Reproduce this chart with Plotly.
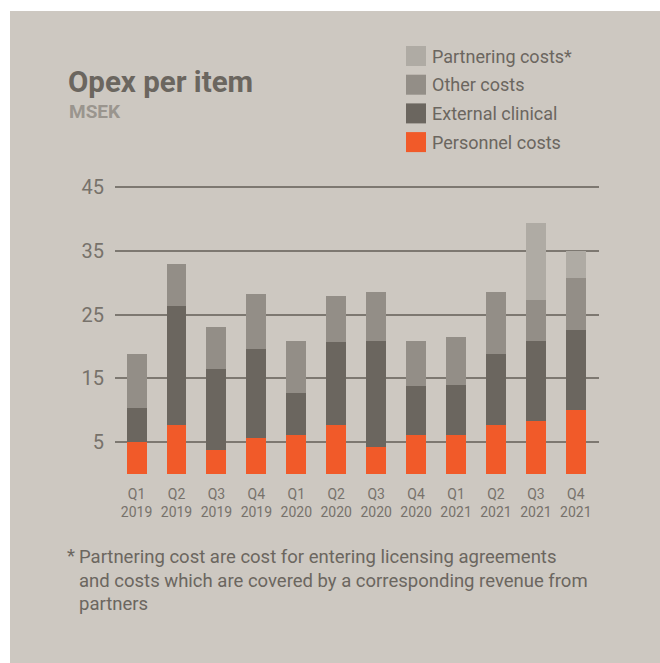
import plotly.graph_objects as go

quarters = ["Q1<br>2019", "Q2<br>2019", "Q3<br>2019", "Q4<br>2019",
            "Q1<br>2020", "Q2<br>2020", "Q3<br>2020", "Q4<br>2020",
            "Q1<br>2021", "Q2<br>2021", "Q3<br>2021", "Q4<br>2021"]
personnel = [5.0, 7.7, 3.75, 5.6, 6.1, 7.7, 4.2, 6.1, 6.1, 7.7, 8.3, 10.0]
external = [5.3, 18.6, 12.7, 14.0, 6.6, 13.0, 16.65, 7.7, 7.85, 11.1, 12.55, 12.6]
other = [8.5, 6.6, 6.55, 8.6, 8.15, 7.3, 7.65, 7.05, 7.55, 9.7, 6.45, 8.1]
partnering = [0, 0, 0, 0, 0, 0, 0, 0, 0, 0, 12.05, 4.3]
series_names = ["Partnering costs*", "Other costs", "External clinical", "Personnel costs"]
y_ticks = [5, 15, 25, 35, 45]
footnote_lines = ["Partnering cost are cost for entering licensing agreements",
                  "and costs which are covered by a corresponding revenue from",
                  "partners"]

BG = "#cdc8c1"
C_PERS = "#f15a29"
C_EXT = "#6b665f"
C_OTH = "#938e87"
C_PART = "#afaba4"
TXT = "#6b665f"
FONT = "Roboto"

W, H = 660, 663
L, R, T, B = 115, 599, 185, 474  # plot area in pixels
Y_TOP = (B - T) / 6.375

def px(p):
    return (p - L) / (R - L)

def py(q):
    return (B - q) / (B - T)

fig = go.Figure()
for vals, col, name in [(personnel, C_PERS, series_names[3]),
                        (external, C_EXT, series_names[2]),
                        (other, C_OTH, series_names[1]),
                        (partnering, C_PART, series_names[0])]:
    fig.add_trace(go.Bar(x=quarters, y=vals, marker=dict(color=col, line=dict(width=0)),
                         name=name, showlegend=False))

shapes = []
annotations = []
# white outer margin (left and top)
shapes.append(dict(type="rect", xref="paper", yref="paper", x0=px(-5), x1=px(10),
                   y0=py(H + 5), y1=py(-5), fillcolor="white", line=dict(width=0), layer="above"))
shapes.append(dict(type="rect", xref="paper", yref="paper", x0=px(-5), x1=px(W + 5),
                   y0=py(11), y1=py(-5), fillcolor="white", line=dict(width=0), layer="above"))

# legend
leg_cols = [C_PART, C_OTH, C_EXT, C_PERS]
for i, (nm, col) in enumerate(zip(series_names, leg_cols)):
    top = 46 + i * 28.7
    shapes.append(dict(type="rect", xref="paper", yref="paper", x0=px(406), x1=px(426),
                       y0=py(top + 20), y1=py(top), fillcolor=col, line=dict(width=0)))
    annotations.append(dict(xref="paper", yref="paper", x=px(430), y=py(top + 10),
                            xanchor="left", yanchor="middle", text=nm, showarrow=False,
                            font=dict(family=FONT, size=18, color=TXT)))

# title
annotations.append(dict(xref="paper", yref="paper", x=px(66), y=py(82), xanchor="left",
                        yanchor="middle", text="<b>Opex per item</b>", showarrow=False,
                        font=dict(family=FONT, size=29.5, color=TXT)))
annotations.append(dict(xref="paper", yref="paper", x=px(67), y=py(112), xanchor="left",
                        yanchor="middle", text="<b>MSEK</b>", showarrow=False,
                        font=dict(family=FONT, size=19, color="#9a958e")))

# footnote
annotations.append(dict(xref="paper", yref="paper", x=px(65), y=py(556), xanchor="left",
                        yanchor="middle", text="*", showarrow=False,
                        font=dict(family=FONT, size=18.5, color=TXT)))
for i, line in enumerate(footnote_lines):
    annotations.append(dict(xref="paper", yref="paper", x=px(77), y=py(557 + i * 23.7),
                            xanchor="left", yanchor="middle", text=line, showarrow=False,
                            font=dict(family=FONT, size=18.5, color=TXT)))

fig.update_layout(
    width=W, height=H,
    margin=dict(l=L, r=W - R, t=T, b=H - B, pad=0),
    paper_bgcolor=BG, plot_bgcolor=BG,
    barmode="stack", bargap=0.5,
    showlegend=False,
    shapes=shapes, annotations=annotations,
    xaxis=dict(range=[-0.54, 11.58], showgrid=False, zeroline=False, showline=False,
               ticks="", tickfont=dict(family=FONT, size=14, color="#77726b"),
               ticklabelstandoff=10),
    yaxis=dict(range=[0, Y_TOP], tickvals=y_ticks, showgrid=True, gridcolor="#7d7871",
               gridwidth=1.5, zeroline=False, showline=False, ticks="",
               tickfont=dict(family=FONT, size=20, color="#77726b"),
               ticklabelstandoff=10),
)

fig.write_html("out.html")
